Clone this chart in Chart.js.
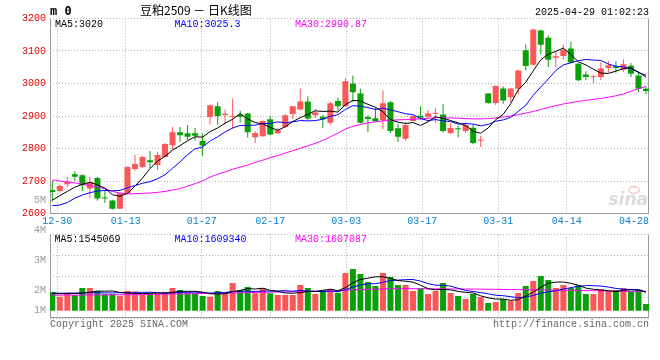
<!DOCTYPE html>
<html><head><meta charset="utf-8">
<script src="https://cdn.jsdelivr.net/npm/chart.js@4.4.1/dist/chart.umd.min.js"></script>
<style>
html,body{margin:0;padding:0;background:#fff;width:660px;height:360px;overflow:hidden}
#wrap{position:relative;width:660px;height:360px;background:#fff}
canvas{position:absolute;left:0}
#k{top:0}
#v{top:190px}
</style></head><body>
<div id="wrap"><canvas id="k" width="660" height="228"></canvas><canvas id="v" width="660" height="170"></canvas></div>
<script>
// ---------------- data ----------------
const dates = ['12-27','12-30','12-31','01-02','01-03','01-06','01-07','01-08','01-09','01-10',
 '01-13','01-14','01-15','01-16','01-17','01-20','01-21','01-22','01-23','01-24',
 '01-27','02-05','02-06','02-07','02-10','02-11','02-12','02-13','02-14','02-17',
 '02-18','02-19','02-20','02-21','02-24','02-25','02-26','02-27','02-28','03-03',
 '03-04','03-05','03-06','03-07','03-10','03-11','03-12','03-13','03-14','03-17',
 '03-18','03-19','03-20','03-21','03-24','03-25','03-26','03-27','03-28','03-31',
 '04-01','04-02','04-03','04-07','04-08','04-09','04-10','04-11','04-14','04-15',
 '04-16','04-17','04-18','04-21','04-22','04-23','04-24','04-25','04-28','04-29'];
const open = [2672,2669,2690,2721,2718,2677,2709,2648,2640,2615,
 2662,2737,2743,2764,2749,2774,2810,2850,2847,2847,
 2823,2897,2930,2903,2897,2904,2908,2835,2838,2890,
 2847,2866,2906,2920,2945,2902,2898,2879,2946,2930,
 3000,2969,2897,2893,2887,2942,2862,2830,2885,2901,
 2898,2907,2905,2848,2861,2854,2864,2824,2969,2940,
 2985,2958,2984,3102,3058,3163,3141,3079,3085,3108,
 3061,3028,3019,3020,3048,3053,3042,3055,3025,2984];
const close = [2666,2685,2698,2713,2687,2696,2646,2646,2615,2662,
 2743,2752,2774,2758,2780,2814,2850,2841,2836,2839,
 2809,2933,2900,2907,2899,2898,2850,2848,2885,2843,
 2856,2902,2930,2945,2892,2911,2890,2939,2930,3007,
 2973,2879,2891,2884,2939,2854,2836,2872,2900,2895,
 2908,2909,2854,2863,2859,2872,2817,2826,2940,2992,
 2948,2985,3040,3054,3166,3119,3073,3084,3104,3065,
 3010,3020,3021,3046,3056,3048,3059,3030,2984,2977];
const high = [2700,2690,2712,2730,2721,2713,2712,2672,2642,2664,
 2745,2780,2776,2792,2790,2817,2866,2866,2872,2864,
 2846,2936,2942,2920,2954,2916,2910,2853,2887,2899,
 2864,2906,2931,2985,2961,2922,2904,2943,2956,3016,
 3025,2984,2902,2926,2979,2946,2875,2881,2902,2930,
 2918,2924,2936,2877,2869,2880,2874,2840,2971,2995,
 2991,2986,3043,3120,3169,3166,3148,3100,3120,3128,
 3063,3038,3028,3066,3069,3068,3074,3063,3035,2989];
const low = [2636,2665,2682,2700,2669,2649,2639,2633,2612,2614,
 2660,2731,2739,2739,2734,2772,2798,2821,2826,2824,
 2778,2874,2874,2874,2861,2880,2834,2817,2836,2841,
 2846,2863,2891,2918,2887,2894,2863,2873,2916,2928,
 2943,2877,2851,2882,2859,2848,2820,2824,2884,2889,
 2892,2880,2849,2844,2834,2848,2813,2805,2938,2934,
 2938,2943,2967,3040,3056,3090,3051,3051,3073,3061,
 3008,3010,2999,3010,3033,3033,3036,3020,2974,2967];
const ma5 = [2641,2655,2668,2681,2690,2696,2688,2678,2658,2653,
 2662,2684,2709,2738,2761,2776,2795,2809,2824,2836,
 2835,2852,2863,2878,2890,2907,2891,2880,2876,2865,
 2856,2867,2883,2895,2905,2916,2914,2915,2912,2935,
 2948,2946,2936,2927,2913,2889,2881,2877,2880,2871,
 2882,2897,2893,2886,2879,2871,2853,2847,2863,2889,
 2905,2938,2981,3004,3039,3073,3090,3099,3109,3089,
 3067,3057,3044,3032,3031,3038,3046,3048,3035,3020];
const ma10 = [2624,2626,2634,2647,2657,2664,2669,2671,2670,2671,
 2679,2686,2693,2698,2707,2719,2739,2759,2781,2799,
 2805,2823,2836,2851,2863,2871,2871,2872,2877,2877,
 2882,2879,2882,2886,2885,2886,2890,2899,2904,2920,
 2932,2930,2926,2920,2924,2919,2913,2907,2904,2892,
 2886,2889,2885,2883,2875,2877,2875,2870,2874,2884,
 2888,2896,2914,2933,2964,2989,3014,3040,3057,3064,
 3070,3074,3072,3071,3060,3053,3051,3046,3034,3025.3];
const ma30 = [2703,2700,2697,2694,2690,2686,2682,2676,2668,2663,
 2660,2661,2662,2663,2665,2668,2672,2677,2684,2692,
 2700,2712,2721,2728,2736,2743,2749,2757,2764,2772,
 2778,2786,2793,2801,2808,2816,2825,2836,2847,2860,
 2868,2874,2879,2882,2885,2887,2888,2889,2890,2891,
 2893,2895,2895,2894,2893,2892,2891,2891,2892,2894,
 2897,2900,2904,2909,2914,2920,2926,2932,2937,2941,
 2945,2948,2951,2954,2958,2962,2968,2976,2984,2990.87];
const volume = [1570000,1180000,1460000,1320000,1910000,1910000,1660000,1400000,1400000,1260000,
 1680000,1570000,1320000,1460000,1460000,1570000,1910000,1740000,1460000,1460000,
 1240000,1180000,1660000,1570000,2330000,1740000,1990000,1460000,1910000,1460000,
 1320000,1320000,1320000,2160000,1910000,1400000,1740000,1820000,1510000,3170000,
 3500000,3080000,2410000,2080000,3170000,2830000,2160000,2160000,1660000,1880000,
 1400000,1660000,2330000,1490000,1240000,980000,1400000,1150000,650000,730000,
 980000,820000,1490000,2080000,2500000,2920000,2580000,1910000,2160000,1910000,
 2130000,1400000,1400000,1820000,1660000,1740000,1910000,1660000,1790000,560000];
const volMa5 = [1450000,1420000,1450000,1440000,1490000,1560000,1650000,1640000,1660000,1530000,
 1480000,1460000,1450000,1460000,1500000,1480000,1540000,1630000,1630000,1630000,
 1560000,1420000,1400000,1420000,1600000,1700000,1860000,1820000,1890000,1710000,
 1630000,1490000,1470000,1520000,1610000,1620000,1710000,1810000,1680000,1930000,
 2350000,2620000,2730000,2850000,2850000,2710000,2530000,2480000,2400000,2140000,
 1850000,1750000,1790000,1750000,1620000,1540000,1490000,1250000,1080000,980000,
 980000,870000,930000,1220000,1570000,1960000,2310000,2400000,2410000,2300000,
 2140000,1900000,1800000,1730000,1680000,1600000,1710000,1760000,1750000,1545069];
const volMa10 = [1480000,1470000,1480000,1480000,1490000,1500000,1510000,1500000,1500000,1510000,
 1520000,1560000,1540000,1560000,1510000,1480000,1500000,1540000,1540000,1560000,
 1520000,1480000,1510000,1530000,1610000,1630000,1640000,1610000,1650000,1650000,
 1660000,1680000,1640000,1700000,1660000,1630000,1600000,1640000,1600000,1770000,
 1990000,2160000,2270000,2260000,2390000,2530000,2570000,2610000,2620000,2490000,
 2280000,2140000,2130000,2070000,1880000,1700000,1620000,1520000,1420000,1300000,
 1260000,1180000,1090000,1150000,1280000,1470000,1590000,1670000,1820000,1940000,
 2050000,2110000,2100000,2070000,1990000,1870000,1800000,1780000,1740000,1609340];
const volMa30 = [1300000,1300000,1310000,1310000,1320000,1320000,1330000,1330000,1340000,1340000,
 1350000,1350000,1360000,1370000,1380000,1390000,1400000,1410000,1420000,1430000,
 1440000,1450000,1460000,1470000,1490000,1500000,1520000,1530000,1550000,1560000,
 1570000,1580000,1590000,1610000,1620000,1630000,1640000,1660000,1670000,1710000,
 1750000,1780000,1800000,1810000,1830000,1840000,1850000,1850000,1850000,1850000,
 1840000,1840000,1840000,1830000,1830000,1820000,1820000,1810000,1800000,1790000,
 1790000,1780000,1770000,1760000,1760000,1750000,1740000,1730000,1720000,1710000,
 1700000,1690000,1680000,1670000,1660000,1650000,1640000,1630000,1620000,1607087];
const xTickLabels = ['12-30','01-13','01-27','02-17','03-03','03-17','03-31','04-14','04-28'];
const priceTicks = [2600,2700,2800,2900,3000,3100,3200];
const volTickLabels = ['5M','4M','3M','2M','1M'];
const priceLegend = ['MA5:3020','MA10:3025.3','MA30:2990.87'];
const volLegend = ['MA5:1545069','MA10:1609340','MA30:1607087'];
const titleText = '豆粕2509 － 日K线图';
const codeText = 'm 0';
const stampText = '2025-04-29 01:02:23';
const copyText = 'Copyright 2025 SINA.COM';
const urlText = 'http://finance.sina.com.cn';

// ---------------- styles ----------------
const MONO = '"Liberation Mono","DejaVu Sans Mono",monospace';
const RED = '#fa5858', GREEN = '#0aa00a';
const LINE_COLORS = ['#000000','#0000ff','#ff00ff'];
const GRID = '#b0b0b0', FRAME = '#9a9a9a';
const X_MIN = -0.306, X_MAX = 79.4;
const idx = dates.map((d,i)=>i);
const up = idx.map(i => close[i] >= open[i]);
const candleColor = idx.map(i => up[i] ? RED : GREEN);
// Sina's date grid drifts slightly against the candle spacing
const gridPos = j => j - 0.347 + 0.0117 * j;

Chart.defaults.font.family = MONO;
Chart.defaults.animation = false;

function xAxis(height){
  return {
    type:'linear', min:X_MIN, max:X_MAX, offset:false,
    ticks:{display:false},
    grid:{display:true, offset:false, drawTicks:false, lineWidth:1,
      color: c => (c.tick && c.tick.value > X_MAX - 1.2) ? 'rgba(0,0,0,0)' : GRID},
    border:{display:false, dash:[1,2]},
    afterBuildTicks: s => { s.ticks = xTickLabels.map(l => ({value: gridPos(dates.indexOf(l))})); },
    afterFit: s => { s.height = height; }
  };
}
function frame(chart, dottedTop){
  const {ctx, chartArea:a} = chart;
  ctx.save();
  ctx.strokeStyle = FRAME; ctx.lineWidth = 1;
  ctx.beginPath();
  ctx.moveTo(Math.round(a.left)+0.5, a.top); ctx.lineTo(Math.round(a.left)+0.5, a.bottom);
  ctx.moveTo(Math.round(a.right)-0.5, a.top); ctx.lineTo(Math.round(a.right)-0.5, a.bottom);
  ctx.moveTo(a.left, Math.round(a.bottom)-0.5); ctx.lineTo(a.right, Math.round(a.bottom)-0.5);
  ctx.stroke();
  ctx.restore();
}
function lineDs(arr, color){
  return {type:'line', data: arr.map((v,i)=>({x:i,y:v})), borderColor:color, borderWidth:1,
    pointRadius:0, fill:false, tension:0, order:0};
}

// ---------------- K chart ----------------
const kPlugin = {
  id:'kText',
  beforeDatasetsDraw(chart){ frame(chart); },
  afterDraw(chart){
    const {ctx, chartArea:a} = chart;
    const xs = chart.scales.x;
    ctx.save();
    ctx.textBaseline = 'middle';
    ctx.fillStyle = '#000'; ctx.textAlign = 'left';
    ctx.font = 'bold 12px "DejaVu Sans Mono"';
    ctx.fillText(codeText, a.left, 11.5);
    ctx.font = '12px "Noto Sans CJK SC"';
    ctx.fillText(titleText, 140, 10);
    ctx.font = '10px ' + MONO; ctx.textAlign = 'right';
    ctx.fillText(stampText, a.right, 12);
    // legend
    ctx.textAlign = 'left';
    const lx = [55, 174.5, 295];
    priceLegend.forEach((t,k) => { ctx.fillStyle = LINE_COLORS[k]; ctx.fillText(t, lx[k], 24.5); });
    // x labels
    ctx.fillStyle = '#0a80d0'; ctx.textAlign = 'center';
    xTickLabels.forEach(l => {
      const px = xs.getPixelForValue(gridPos(dates.indexOf(l)));
      const w = ctx.measureText(l).width;
      ctx.fillText(l, Math.min(px, a.right - w/2), a.bottom + 8);
    });
    // watermark
    ctx.font = 'italic bold 17px "DejaVu Sans"'; ctx.textAlign = 'right'; ctx.textBaseline = 'alphabetic';
    ctx.fillStyle = 'rgba(190,190,190,0.55)';
    ctx.fillText('sina', a.right - 1, 205);
    ctx.strokeStyle = 'rgba(240,140,140,0.5)'; ctx.lineWidth = 1.5;
    ctx.beginPath(); ctx.ellipse(634, 190, 5, 3.5, 0, 0, Math.PI*2); ctx.stroke();
    ctx.restore();
  }
};

new Chart(document.getElementById('k'), {
  type:'bar',
  data:{ datasets:[
    lineDs(ma5, LINE_COLORS[0]),
    lineDs(ma10, LINE_COLORS[1]),
    lineDs(ma30, LINE_COLORS[2]),
    {type:'bar', data: idx.map(i=>({x:i, y:[open[i], close[i]]})), backgroundColor:candleColor,
      barThickness:6, grouped:false, minBarLength:1, borderWidth:0, inflateAmount:0, order:1},
    {type:'bar', data: idx.map(i=>({x:i, y:[low[i], high[i]]})), backgroundColor:candleColor,
      barThickness:1, grouped:false, borderWidth:0, inflateAmount:0, order:2}
  ]},
  options:{
    responsive:false, devicePixelRatio:1, animation:false,
    layout:{padding:{left:0, right:11, top:18.5, bottom:0}},
    plugins:{legend:{display:false}, tooltip:{enabled:false}},
    events:[],
    scales:{
      x: xAxis(14.5),
      y:{ type:'linear', position:'left', min:priceTicks[0], max:priceTicks[priceTicks.length-1],
        afterBuildTicks: s => { s.ticks = priceTicks.map(v=>({value:v})); },
        ticks:{color:'#e60000', font:{family:MONO, size:10}, padding:4, callback:v=>String(v)},
        grid:{color:GRID, drawTicks:false, lineWidth:1},
        border:{display:false, dash:[1,2]},
        afterFit: s => { s.width = 50; } }
    }
  },
  plugins:[kPlugin]
});

// ---------------- volume chart ----------------
const V_MIN = -638700, V_MAX = 6420000;
const vPlugin = {
  id:'vText',
  beforeDatasetsDraw(chart){ frame(chart); },
  afterDraw(chart){
    const {ctx, chartArea:a} = chart;
    ctx.save();
    ctx.textBaseline = 'middle';
    ctx.font = '10px ' + MONO;
    ctx.fillStyle = '#999'; ctx.textAlign = 'right';
    const off = [-34.3, -3.6, 26.4, 56.4, 76.4];
    volTickLabels.forEach((t,k) => ctx.fillText(t, 46, a.top + off[k]));
    ctx.textAlign = 'left';
    const lx = [54.5, 174.5, 295];
    volLegend.forEach((t,k) => { ctx.fillStyle = LINE_COLORS[k]; ctx.fillText(t, lx[k], a.top + 4.8); });
    ctx.fillStyle = '#666';
    ctx.fillText(copyText, a.left, a.bottom + 5.7);
    ctx.textAlign = 'right';
    ctx.fillText(urlText, a.right, a.bottom + 6);
    ctx.restore();
  }
};

new Chart(document.getElementById('v'), {
  type:'bar',
  data:{ datasets:[
    lineDs(volMa5, LINE_COLORS[0]),
    lineDs(volMa10, LINE_COLORS[1]),
    lineDs(volMa30, LINE_COLORS[2]),
    {type:'bar', data: idx.map(i=>({x:i, y:volume[i]})), backgroundColor:candleColor,
      barThickness:6, grouped:false, borderWidth:0, inflateAmount:0, order:1}
  ]},
  options:{
    responsive:false, devicePixelRatio:1, animation:false,
    layout:{padding:{left:0, right:11, top:44.3, bottom:0}},
    plugins:{legend:{display:false}, tooltip:{enabled:false}},
    events:[],
    scales:{
      x: xAxis(41.7),
      y:{ type:'linear', position:'left', min:V_MIN, max:V_MAX,
        afterBuildTicks: s => { const st = (s.max - s.min)/4; s.ticks = [0,1,2,3,4].map(k=>({value: s.min + st*k})); },
        ticks:{display:false},
        grid:{color:GRID, drawTicks:false, lineWidth:1},
        border:{display:false, dash:[1,2]},
        afterFit: s => { s.width = 50; } }
    }
  },
  plugins:[vPlugin]
});
</script>
</body></html>
